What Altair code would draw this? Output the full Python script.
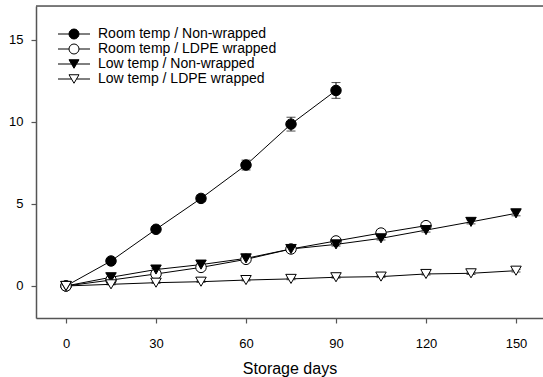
import altair as alt
import pandas as pd

# ---- data ----
series_names = [
    "Room temp / Non-wrapped",
    "Room temp / LDPE wrapped",
    "Low temp / Non-wrapped",
    "Low temp / LDPE wrapped",
]

days_room_nw = [0, 15, 30, 45, 60, 75, 90]
vals_room_nw = [0.0, 1.52, 3.45, 5.33, 7.36, 9.85, 11.9]
err_room_nw = [0.05, 0.12, 0.15, 0.2, 0.3, 0.42, 0.48]

days_room_ldpe = [0, 15, 30, 45, 60, 75, 90, 105, 120]
vals_room_ldpe = [0.0, 0.36, 0.73, 1.13, 1.62, 2.25, 2.74, 3.22, 3.67]
err_room_ldpe = [0.05, 0.05, 0.08, 0.08, 0.1, 0.1, 0.12, 0.18, 0.2]

days_low_nw = [0, 15, 30, 45, 60, 75, 90, 105, 120, 135, 150]
vals_low_nw = [0.0, 0.53, 1.0, 1.3, 1.68, 2.25, 2.53, 2.9, 3.4, 3.9, 4.42]
err_low_nw = [0.05, 0.05, 0.06, 0.06, 0.08, 0.08, 0.1, 0.1, 0.12, 0.12, 0.15]

days_low_ldpe = [0, 15, 30, 45, 60, 75, 90, 105, 120, 135, 150]
vals_low_ldpe = [0.0, 0.1, 0.2, 0.26, 0.36, 0.43, 0.53, 0.57, 0.73, 0.77, 0.93]
err_low_ldpe = [0.03, 0.03, 0.04, 0.04, 0.05, 0.05, 0.05, 0.06, 0.06, 0.07, 0.08]

x_ticks = [0, 30, 60, 90, 120, 150]
y_ticks = [0, 5, 10, 15]

rows = []
for name, d, v, e in [
    (series_names[0], days_room_nw, vals_room_nw, err_room_nw),
    (series_names[1], days_room_ldpe, vals_room_ldpe, err_room_ldpe),
    (series_names[2], days_low_nw, vals_low_nw, err_low_nw),
    (series_names[3], days_low_ldpe, vals_low_ldpe, err_low_ldpe),
]:
    for di, vi, ei in zip(d, v, e):
        rows.append({"series": name, "day": di, "value": vi,
                     "lo": vi - ei, "hi": vi + ei})
df = pd.DataFrame(rows)

FONT = "Liberation Sans"
W, H = 507, 312

x = alt.X("day:Q", scale=alt.Scale(domain=[-10, 159], nice=False, zero=False),
          axis=alt.Axis(values=x_ticks, title="Storage days", grid=False,
                        domainColor="#555", domainWidth=1.5, tickColor="#555",
                        tickWidth=1.2, tickSize=5, labelPadding=14,
                        labelFontSize=13, labelFont=FONT, labelColor="black",
                        titleFont=FONT, titleFontSize=16, titleFontWeight="normal",
                        titleColor="black", titlePadding=10))
y = alt.Y("value:Q", scale=alt.Scale(domain=[-1.95, 17.04], nice=False, zero=False),
          axis=alt.Axis(values=y_ticks, title=None, grid=False,
                        domainColor="#555", domainWidth=1.5, tickColor="#555",
                        tickWidth=1.2, tickSize=5, labelPadding=8,
                        labelFontSize=13, labelFont=FONT, labelColor="black"))

base = alt.Chart(df)

lines = base.mark_line(color="black", strokeWidth=1).encode(
    x=x, y=y, detail="series:N")

err_rule = base.mark_rule(color="black", strokeWidth=1).encode(
    x="day:Q", y="lo:Q", y2="hi:Q")
cap_lo = base.mark_tick(color="black", orient="horizontal", size=9,
                        thickness=1).encode(x="day:Q", y="lo:Q")
cap_hi = base.mark_tick(color="black", orient="horizontal", size=9,
                        thickness=1).encode(x="day:Q", y="hi:Q")

fill_colors = ["black", "white", "black", "white"]
stroke_colors = ["black", "black", "black", "black"]

points = base.mark_point(filled=True, stroke="black", strokeWidth=1,
                         size=110, opacity=1).encode(
    x="day:Q", y="value:Q",
    shape=alt.Shape("series:N", scale=alt.Scale(
        domain=series_names,
        range=["circle", "circle", "triangle-down", "triangle-down"]),
        legend=None),
    fill=alt.Fill("series:N", scale=alt.Scale(domain=series_names,
                                              range=fill_colors), legend=None),
)

circ = "M-3.2,0H-1M1,0H3.2M1,0A1,1,0,1,1,-1,0A1,1,0,1,1,1,0"
tri = "M-3.2,0H-0.5M0.5,0H3.2M-1,-0.85L1,-0.85L0,0.85Z"

leg = alt.Legend(orient="none", legendX=31, legendY=21, title=None,
                 symbolSize=100, symbolStrokeColor="black", symbolStrokeWidth=1,
                 symbolOpacity=1, labelFont=FONT, labelFontSize=14,
                 labelColor="black", labelOffset=17, rowPadding=1, padding=0,
                 symbolOffset=0, labelLimit=0)

legend_layer = base.transform_filter("datum.day < -100").mark_point(
    filled=True, strokeWidth=1, size=100).encode(
    x="day:Q", y="value:Q",
    shape=alt.Shape("series:N", scale=alt.Scale(domain=series_names,
                                                range=[circ, circ, tri, tri]),
                    legend=leg),
    fill=alt.Fill("series:N", scale=alt.Scale(domain=series_names,
                                              range=fill_colors), legend=leg),
    stroke=alt.Stroke("series:N", scale=alt.Scale(domain=series_names,
                                                  range=stroke_colors),
                      legend=leg),
)

top_rule = alt.Chart(pd.DataFrame({"k": [0]})).mark_rule(
    color="#555", strokeWidth=1.5).encode(
    x=alt.value(0), x2=alt.value(W), y=alt.value(0))

chart = alt.layer(lines, err_rule, cap_lo, cap_hi, points, legend_layer,
                  top_rule).resolve_scale(
    shape="independent", fill="independent", stroke="independent"
).properties(
    width=W, height=H,
    autosize=alt.AutoSizeParams(type="none"),
    padding={"left": 36, "top": 6, "right": 0, "bottom": 59},
).configure_view(stroke=None).configure(background="white")

chart.save("out.html", embed_options={"renderer": "svg", "actions": False})
